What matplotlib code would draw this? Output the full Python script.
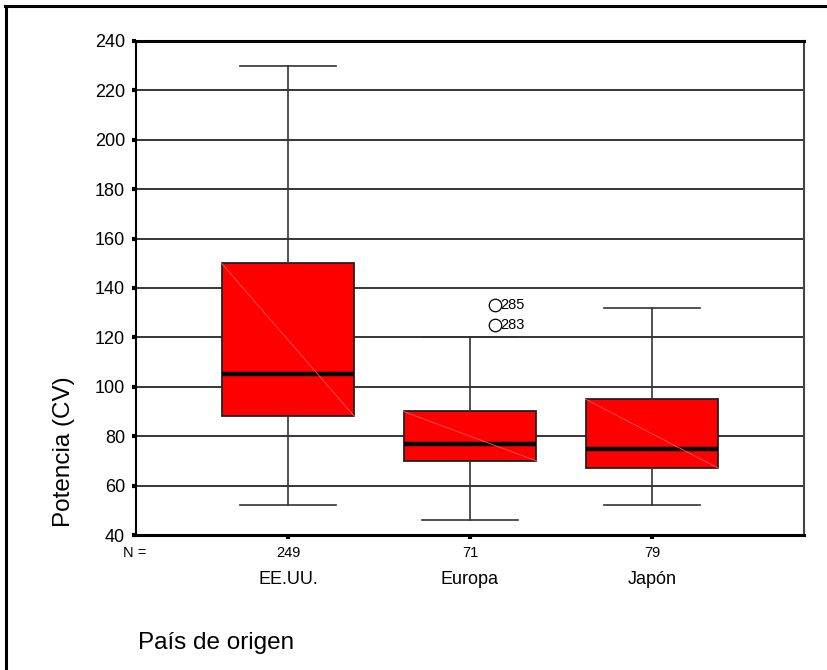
import matplotlib.pyplot as plt
from matplotlib.lines import Line2D

plt.rcParams['font.family'] = ['Liberation Sans', 'DejaVu Sans']

# data
paises = ['EE.UU.', 'Europa', 'Japón']
n_casos = [249, 71, 79]
bigote_inf = [52, 46, 52]
q1 = [88, 70, 67]
mediana = [105, 77, 75]
q3 = [150, 90, 95]
bigote_sup = [230, 120, 132]
atipicos_valor = [133, 125]
atipicos_caso = ['285', '283']
atipicos_grupo = [2, 2]

fig = plt.figure(figsize=(8.28, 6.70), dpi=100)
ax = fig.add_axes([136/828, 1-535/670, (804-136)/828, (535-41)/670])

stats = []
for i in range(len(paises)):
    stats.append({'whislo': bigote_inf[i], 'q1': q1[i], 'med': mediana[i],
                  'q3': q3[i], 'whishi': bigote_sup[i], 'fliers': []})

pos = [1, 2, 3]
ancho = 0.73
ax.bxp(stats, positions=pos, widths=ancho, capwidths=0.53, patch_artist=True,
       showfliers=False,
       boxprops=dict(facecolor='#ff0000', edgecolor='#222222', linewidth=1.3),
       medianprops=dict(color='black', linewidth=3.2),
       whiskerprops=dict(color='#333333', linewidth=1.2),
       capprops=dict(color='#333333', linewidth=1.2), zorder=3)

# faint diagonal rendering artefact inside each box
for p, lo, hi in zip(pos, q1, q3):
    ax.plot([p - ancho/2, p + ancho/2], [hi, lo], color='#ff5a5a',
            linewidth=0.6, zorder=3.5)

# outliers: open circles with case number
for v, c, g in zip(atipicos_valor, atipicos_caso, atipicos_grupo):
    ax.plot(g + 0.14, v, 'o', mfc='white', mec='black', ms=9, mew=0.9, zorder=4)
    ax.text(g + 0.165, v, c, fontsize=10.5, va='center', ha='left', zorder=4)

ax.set_xlim(0.165, 3.835)
ax.set_ylim(40, 240)
ax.set_yticks(range(40, 241, 20))
ax.set_yticklabels([str(t) for t in range(40, 241, 20)], fontsize=13)
ax.set_xticks(pos)
ax.set_xticklabels([str(n) for n in n_casos], fontsize=10.5)
ax.tick_params(axis='both', length=3, width=3, direction='out', pad=5)
ax.tick_params(axis='x', pad=5)
ax.yaxis.grid(True, color='black', linewidth=1.1, zorder=0)
ax.set_axisbelow(True)

for s in ['top', 'bottom']:
    ax.spines[s].set_linewidth(2.2)
for s in ['left', 'right']:
    ax.spines[s].set_linewidth(1.5)
ax.spines['right'].set_color('#444444')

fig.text(135/828, 1 - 553/670, 'N =', fontsize=10.5, ha='center', va='center')
for p, nombre in zip(pos, paises):
    fig.text(ax.transData.transform((p, 40))[0] / 828, 1 - 580/670, nombre,
             fontsize=13, ha='center', va='center')

fig.text(64/828, 1 - 452/670, 'Potencia (CV)', rotation=90, fontsize=17.5,
         ha='center', va='center')
fig.text(138/828, 1 - 643/670, 'País de origen', fontsize=17.5,
         ha='left', va='center')

# outer frame (top and left edges visible)
fig.add_artist(Line2D([5/828, 1], [1 - 6/670, 1 - 6/670], color='black',
                      linewidth=2.2, transform=fig.transFigure))
fig.add_artist(Line2D([6/828, 6/828], [0, 1 - 6/670], color='black',
                      linewidth=2.2, transform=fig.transFigure))

fig.savefig('out.png', dpi=100)
